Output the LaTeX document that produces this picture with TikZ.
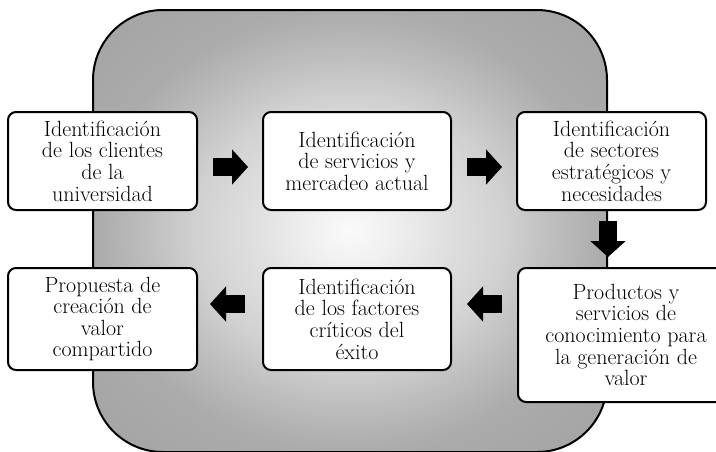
\documentclass[tikz,border=0pt]{standalone}
\usepackage{fontspec}
\usetikzlibrary{arrows.meta,calc}

\pgfdeclareradialshading{glowbg}{\pgfpoint{0bp}{0bp}}{color(0bp)=(black!2); color(4bp)=(black!6); color(10bp)=(black!13); color(15bp)=(black!18); color(20bp)=(black!26); color(25bp)=(black!33); color(35bp)=(black!36); color(50bp)=(black!36)}

\tikzset{every picture/.style={line width=0.75pt}}
\tikzset{
	stagebox/.style={draw, fill=white, rounded corners=6pt, line width=1.5pt, outer sep=0pt, align=center, inner sep=0pt, font=\fontsize{16.5}{16.2}\selectfont},
	blockarrow/.style={line width=13.5pt, -{Triangle[length=12pt,width=26.5pt,line width=0pt]}}
}

\begin{document}
\begin{tikzpicture}[x=0.75pt,y=0.75pt,yscale=-1,xscale=1]
	\useasboundingbox (0,0) rectangle (716,451);

	%Shape: Rounded Rect
	\shadedraw[shading=glowbg, rounded corners=52.5pt, line width=1.5pt] (93,10) rectangle (607,452);

	% Text Node
	\node[stagebox, minimum width=141.75pt, minimum height=73.5pt] (clientes) at (102.5,161) {Identificación\\de los clientes\\de la\\universidad};
	% Text Node
	\node[stagebox, minimum width=141pt, minimum height=73.5pt] (servicios) at (357,161) {Identificación\\de servicios y\\mercadeo actual};
	% Text Node
	\node[stagebox, minimum width=141.75pt, minimum height=73.5pt] (sectores) at (611.5,161) {Identificación\\de sectores\\estratégicos y\\necesidades};
	% Text Node
	\node[stagebox, minimum width=162pt, minimum height=100.5pt] (productos) at (626,335) {Productos y\\servicios de\\conocimiento para\\la generación de\\valor};
	% Text Node
	\node[stagebox, minimum width=141pt, minimum height=76.5pt] (factores) at (357,319) {Identificación\\de los factores\\críticos del\\éxito};
	% Text Node
	\node[stagebox, minimum width=141.75pt, minimum height=76.5pt] (propuesta) at (102.5,319) {Propuesta de\\creación de\\valor\\compartido};

	%Block Arrows
	\draw[blockarrow] ($(clientes.east)+(16,6)$) -- ($(servicios.west)+(-15,6)$);
	\draw[blockarrow] ($(servicios.east)+(16,6)$) -- ($(sectores.west)+(-15,6)$);
	\draw[blockarrow] ($(sectores.south)+(-3.5,11)$) -- ($(productos.north -| sectores.south)+(-3.5,-11)$);
	\draw[blockarrow] ($(productos.west |- factores.east)+(-16,-15)$) -- ($(factores.east)+(16,-15)$);
	\draw[blockarrow] ($(factores.west)+(-18,-15)$) -- ($(propuesta.east)+(13,-15)$);

\end{tikzpicture}
\end{document}
